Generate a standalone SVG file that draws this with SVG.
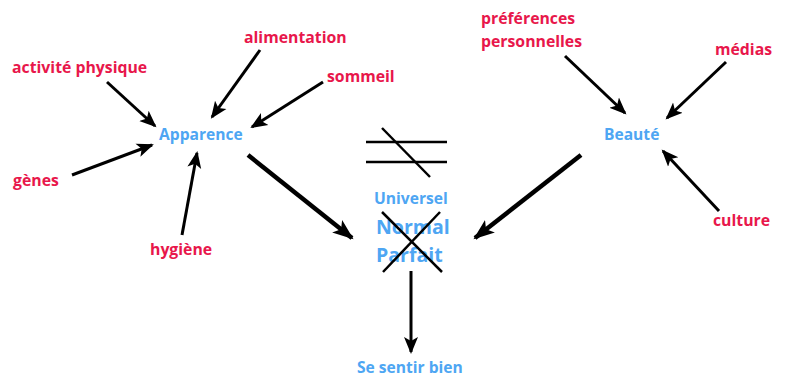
<svg xmlns="http://www.w3.org/2000/svg" width="785" height="379" viewBox="0 0 785 379">
<style>
text{font-family:"Open Sans","Noto Sans","DejaVu Sans",sans-serif;font-weight:bold}
.r{fill:#e8174b;font-size:15.8px}
.b{fill:#4ea6f3;font-size:15.6px}
.bb{fill:#4ea6f3;font-size:19.5px}
.a{stroke:#000;stroke-width:3;fill:none;marker-end:url(#h)}
.t{stroke:#000;stroke-width:4.5;fill:none;marker-end:url(#H)}
.s{stroke:#000;stroke-width:2.5;fill:none}
</style>
<defs>
<marker id="h" markerUnits="userSpaceOnUse" markerWidth="18" markerHeight="16" refX="15" refY="7" orient="auto" viewBox="0 0 18 14">
<path d="M0,0 L17,7 L0,14 L4,7 Z" fill="#000"/>
</marker>
<marker id="H" markerUnits="userSpaceOnUse" markerWidth="22" markerHeight="18" refX="19" refY="8" orient="auto" viewBox="0 0 22 16">
<path d="M0,0 L21,8 L0,16 L5,8 Z" fill="#000"/>
</marker>
</defs>
<g id="n-activite"><text class="r" x="12" y="73">activité physique</text></g>
<g id="n-alimentation"><text class="r" x="244" y="43">alimentation</text></g>
<g id="n-sommeil"><text class="r" x="327" y="82">sommeil</text></g>
<g id="n-genes"><text class="r" x="13" y="186">gènes</text></g>
<g id="n-hygiene"><text class="r" x="150" y="255">hygiène</text></g>
<g id="n-apparence"><text class="b" x="159" y="140">Apparence</text></g>
<g id="n-preferences"><text class="r" x="481" y="24">préférences</text><text class="r" x="481" y="47">personnelles</text></g>
<g id="n-medias"><text class="r" x="715" y="55">médias</text></g>
<g id="n-culture"><text class="r" x="713" y="226">culture</text></g>
<g id="n-beaute"><text class="b" x="604" y="140">Beauté</text></g>
<g id="n-centre">
<text class="b" x="374" y="204">Universel</text>
<text class="bb" x="376" y="234">Normal</text>
<text class="bb" x="376" y="262">Parfait</text>
<line class="s" x1="382" y1="212" x2="442" y2="272"/>
<line class="s" x1="440" y1="212" x2="383" y2="272"/>
</g>
<g id="n-different">
<line class="s" x1="366" y1="142" x2="447" y2="142"/>
<line class="s" x1="366" y1="162" x2="447" y2="162"/>
<line class="s" x1="382" y1="128" x2="430" y2="177"/>
</g>
<g id="n-sentir"><text class="b" x="357" y="373">Se sentir bien</text></g>
<g id="connectors">
<line class="a" x1="107" y1="82" x2="155" y2="126"/>
<line class="a" x1="260" y1="50" x2="212" y2="117"/>
<line class="a" x1="323" y1="82" x2="252" y2="127"/>
<line class="a" x1="72" y1="175" x2="152" y2="145"/>
<line class="a" x1="182" y1="235" x2="197" y2="153"/>
<line class="t" x1="248" y1="155" x2="352" y2="238"/>
<line class="a" x1="565" y1="56" x2="625" y2="113"/>
<line class="a" x1="726" y1="62" x2="667" y2="118"/>
<line class="a" x1="719" y1="211" x2="663" y2="151"/>
<line class="t" x1="581" y1="155" x2="475" y2="238"/>
<line class="a" x1="411" y1="271" x2="411" y2="352"/>
</g>
</svg>
